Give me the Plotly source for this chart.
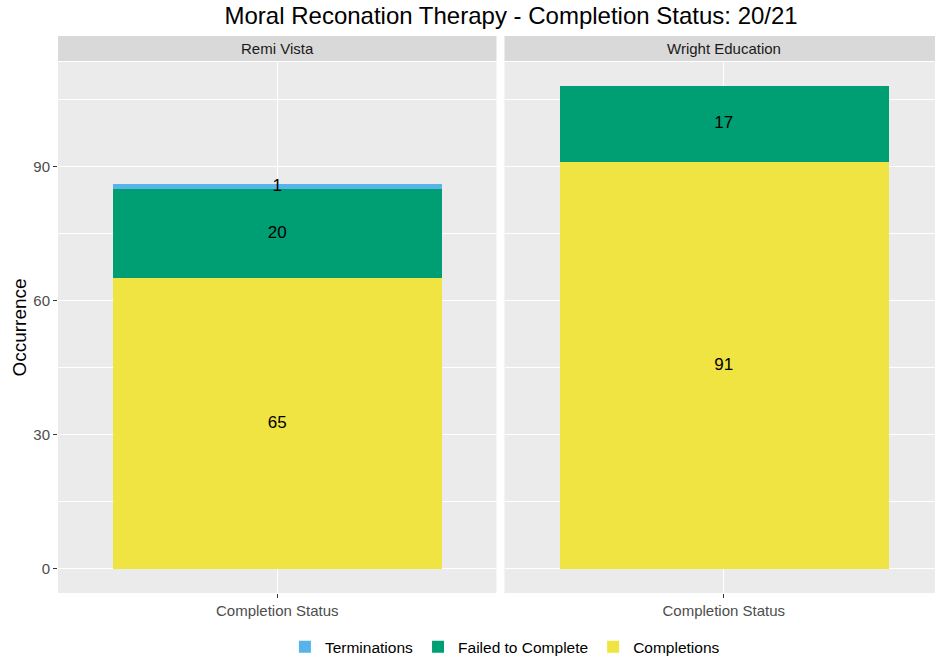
import plotly.graph_objects as go
from plotly.subplots import make_subplots

sites = ["Remi Vista", "Wright Education"]
statuses = ["Completions", "Failed to Complete", "Terminations"]
counts = {
    "Completions": [65, 91],
    "Failed to Complete": [20, 17],
    "Terminations": [1, 0],
}
colors = {
    "Completions": "#F0E442",
    "Failed to Complete": "#009E73",
    "Terminations": "#56B4E9",
}
category = "Completion Status"

# plot area: 58px left, 885px wide (right panel runs past the window edge like the original)
fig = make_subplots(rows=1, cols=2, horizontal_spacing=8 / 885, shared_yaxes=True)

for i, site in enumerate(sites):
    base = 0
    mids, labels = [], []
    for s in statuses:
        v = counts[s][i]
        fig.add_trace(
            go.Bar(
                x=[category],
                y=[v],
                name=s,
                marker=dict(color=colors[s], line=dict(width=0)),
                width=0.9,
                legendgroup=s,
                showlegend=(i == 0),
            ),
            row=1, col=i + 1,
        )
        if v > 0:
            mids.append(base + v / 2)
            labels.append(str(v))
        base += v
    fig.add_trace(
        go.Scatter(
            x=[category] * len(mids),
            y=mids,
            text=labels,
            mode="text",
            textfont=dict(size=17, color="black"),
            showlegend=False,
            hoverinfo="skip",
        ),
        row=1, col=i + 1,
    )

axis_font = dict(family="Liberation Sans, Arial", size=15, color="#4D4D4D")

fig.update_xaxes(
    range=[-0.6, 0.6],
    showgrid=True, gridcolor="white", gridwidth=1.2,
    ticks="outside", ticklen=4, tickcolor="#333333",
    tickfont=axis_font, zeroline=False, automargin=False,
)
fig.update_yaxes(
    range=[-5.4, 113.4],
    dtick=30, tick0=0,
    showgrid=True, gridcolor="white", gridwidth=1.2,
    minor=dict(dtick=15, tick0=0, showgrid=True, gridcolor="white", gridwidth=0.5),
    zeroline=False, automargin=False,
)
fig.update_yaxes(
    ticks="outside", ticklen=4, tickcolor="#333333", tickfont=axis_font,
    row=1, col=1,
)

# y axis title
fig.add_annotation(
    text="Occurrence", xref="paper", yref="paper",
    x=-0.044, y=0.5, textangle=-90, showarrow=False,
    xanchor="center", yanchor="middle",
    font=dict(family="Liberation Sans, Arial", size=19, color="black"),
)

# facet strips
for i, site in enumerate(sites):
    xref = "x domain" if i == 0 else "x2 domain"
    fig.add_shape(
        type="rect", xref=xref, yref="paper",
        x0=0, x1=1, y0=1.002, y1=1.049,
        fillcolor="#D9D9D9", line=dict(width=0), layer="below",
    )
    fig.add_annotation(
        text=site, xref=xref, yref="paper", x=0.5, y=1.0255,
        showarrow=False, yanchor="middle",
        font=dict(family="Liberation Sans, Arial", size=15, color="#1A1A1A"),
    )

fig.update_layout(
    width=943, height=659,
    margin=dict(l=58, r=0, t=62, b=66, autoexpand=False),
    paper_bgcolor="white",
    plot_bgcolor="#EBEBEB",
    barmode="stack",
    bargap=0,
    title=dict(
        text="Moral Reconation Therapy - Completion Status: 20/21",
        x=0.512, xref="paper", xanchor="center",
        y=0.977, yanchor="middle",
        font=dict(family="Liberation Sans, Arial", size=24, color="black"),
    ),
    legend=dict(
        orientation="h", traceorder="reversed",
        x=0.505, xanchor="center", y=-0.102, yanchor="middle",
        font=dict(family="Liberation Sans, Arial", size=15.5, color="black"),
        itemwidth=30,
    ),
    font=dict(family="Liberation Sans, Arial"),
)

fig.write_html(
    "out.html",
    config={"displayModeBar": False},
    post_script="document.body.style.margin='0';document.body.style.overflow='hidden';",
)
